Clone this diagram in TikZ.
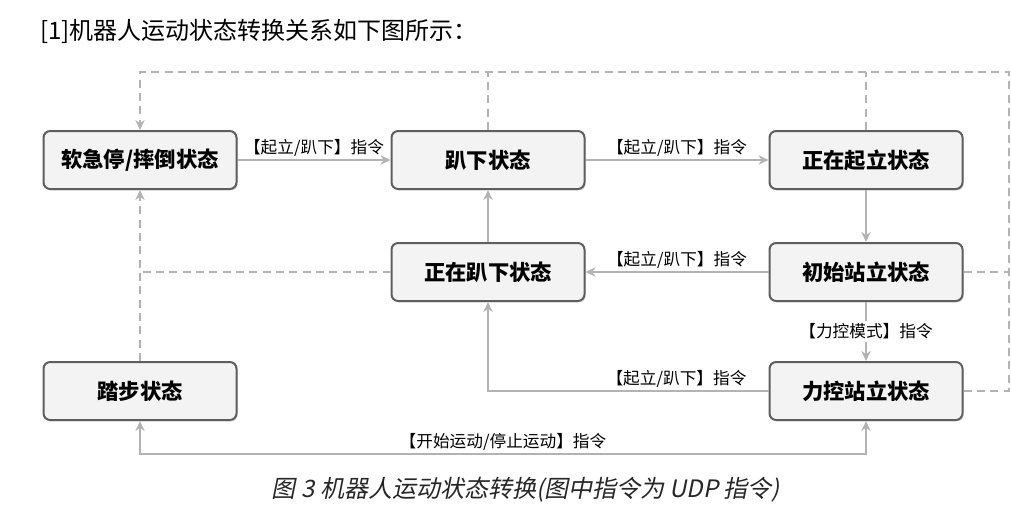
\documentclass[tikz,border=0pt]{standalone}
\usepackage{fontspec}
\setmainfont{Noto Sans CJK SC}
\newfontfamily\capfont[FakeSlant=0.2]{Noto Sans CJK SC}
\usetikzlibrary{arrows.meta,positioning,shadows}
\definecolor{linegray}{HTML}{B3B3B3}
\definecolor{boxgray}{HTML}{F3F3F3}
\definecolor{edgegray}{HTML}{5E5E5E}
\tikzset{>={Stealth[length=7.5pt,width=7pt]}}
\tikzset{state/.style={rectangle,rounded corners=5pt,draw=edgegray,line width=1.5pt,fill=boxgray,
            minimum width=144.75pt,minimum height=43.5pt,inner sep=0pt,
            font=\fontsize{16pt}{19pt}\selectfont\bfseries,
            drop shadow={shadow xshift=0.9pt,shadow yshift=-1.1pt,opacity=0.3,fill=black!50}},
         flow/.style={draw=linegray,line width=1.5pt,->},
         dashflow/.style={draw=linegray,line width=1.5pt,dash pattern=on 6pt off 4pt},
         cmd/.style={font=\fontsize{12.5pt}{14pt}\selectfont,inner sep=2pt},
            }

\begin{document}
\begin{tikzpicture}[x=0.75pt,y=-0.75pt]
    \useasboundingbox (0,0) rectangle (1011,512);

    \node[anchor=west,inner sep=0pt,font=\fontsize{18pt}{21pt}\selectfont] (title) at (40,31) {[1]机器人运动状态转换关系如下图所示：};

    \node[state] (estop) at (140,160) {软急停/摔倒状态};
    \node[state] (lie) [right = 114.75pt of estop] {趴下状态};
    \node[state] (rise) [right = 137.25pt of lie] {正在起立状态};
    \node[state] (init) [below = 39pt of rise] {初始站立状态};
    \node[state] (lying) [below = 39pt of lie] {正在趴下状态};
    \node[state] (force) [below = 44.25pt of init] {力控站立状态};
    \node[state] (walk) [left = 398.25pt of force] {踏步状态};

    % dashed lines back to the soft stop
    \coordinate (topleft) at ([yshift=43.5pt]estop.north);
    \coordinate (rail) at ([xshift=33.75pt]force.east);
    \draw[dashflow,->] (force.east) -- (rail) |- (topleft) -- (estop.north);
    \draw[dashflow] (init.east) -- (init.east -| rail);
    \draw[dashflow] (lie.north) -- (lie.north |- topleft);
    \draw[dashflow] (rise.north) -- (rise.north |- topleft);
    \draw[dashflow,->] (walk.north) -- (estop.south);
    \draw[dashflow] (lying.west) -- (lying.west -| estop.south);

    % commands
    \draw[flow] (estop) -- node[cmd,above] {【起立/趴下】指令} (lie);
    \draw[flow] (lie) -- node[cmd,above] {【起立/趴下】指令} (rise);
    \draw[flow] (rise) -- (init);
    \draw[flow] (init) -- node[cmd,above] {【起立/趴下】指令} (lying);
    \draw[flow] (lying) -- (lie);
    \draw[flow] (init) -- node[cmd,fill=white] {【力控模式】指令} (force);
    \draw[flow] (force) -| node[cmd,above,pos=0.164] {【起立/趴下】指令} (lying);
    \coordinate (base) at ([yshift=-24.75pt]walk.south);
    \draw[flow,<->] (walk) -- (base) -| node[cmd,above,pos=0.25] {【开始运动/停止运动】指令} (force);

    \node[font=\capfont\fontsize{18pt}{21pt}\selectfont,text=black!85] (caption) at (526,490) {图 3 机器人运动状态转换(图中指令为 UDP 指令)};

\end{tikzpicture}
\end{document}
